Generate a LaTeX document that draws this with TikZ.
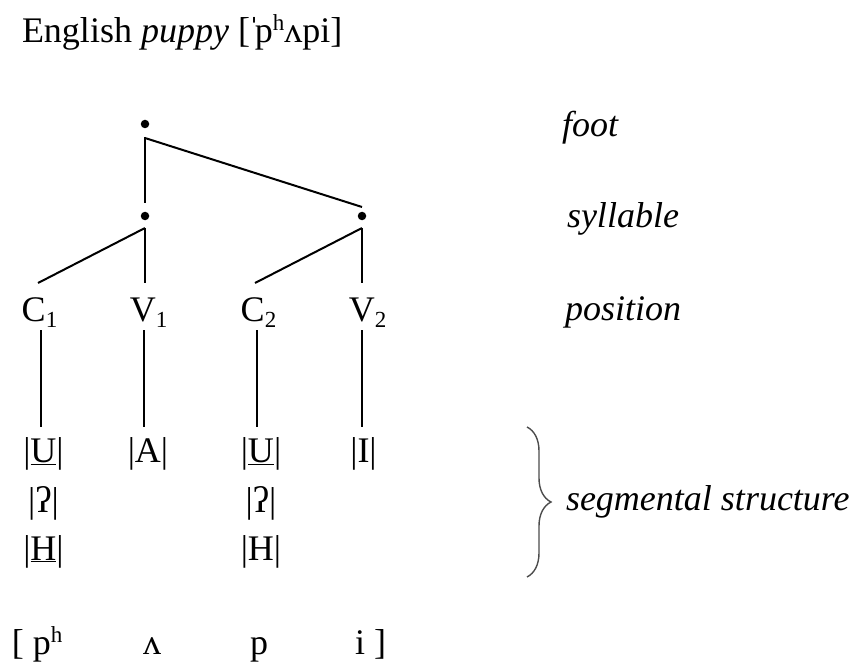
\documentclass[tikz,border=0pt]{standalone}
\usepackage{fontspec}
\usepackage{graphicx}
\setmainfont{Liberation Serif}
\usetikzlibrary{decorations.pathreplacing}
% lowered index digit and raised aspiration mark
\newcommand\lowidx[1]{\raisebox{-6pt}{\fontsize{23}{23}\selectfont #1}}
\newcommand\upidx[1]{\raisebox{12pt}{\fontsize{23}{23}\selectfont #1}}
% glottal stop element, set at full cap height
\newcommand\glot{\resizebox{!}{26pt}{ʔ}}

\begin{document}
\begin{tikzpicture}[x=1pt,y=-1pt,
  every node/.style={inner sep=0pt, outer sep=0pt, font=\fontsize{36}{43}\selectfont},
  txt/.style={anchor=base},
  lbl/.style={anchor=base west, font=\fontsize{36}{43}\selectfont\itshape},
  dot/.style={circle, fill=black, minimum size=8.5pt},
  branch/.style={line width=2pt},
  curly/.style={decorate, decoration={brace, amplitude=24pt}, line width=1.4pt, draw=black!70},
]
\useasboundingbox (0,0) rectangle (859,671);

% heading
\node[anchor=base west] (title) at (22,43) {English \textit{puppy} [\kern-2ptˈ\kern-5ptp\upidx{h}ʌpi]};

% prosodic nodes
\node[dot] (foot) at (145,124) {};
\node[dot] (sylA) at (145,216) {};
\node[dot] (sylB) at (362,216) {};

% skeletal positions
\node[txt] (C1) at (39.5,321) {C\lowidx{1}};
\node[txt] (V1) at (148.5,321) {V\lowidx{1}};
\node[txt] (C2) at (258.5,321) {C\lowidx{2}};
\node[txt] (V2) at (367.5,321) {V\lowidx{2}};

% element structure
\node[txt] (U1) at (43.5,462) {|\underline{U}|};
\node[txt] (Q1) at (43.5,512) {|\glot|};
\node[txt] (H1) at (43.5,560) {|\underline{H}|};
\node[txt] (A)  at (148,462) {|A|};
\node[txt] (U2) at (261,462) {|\underline{U}|};
\node[txt] (Q2) at (261,512) {|\glot|};
\node[txt] (H2) at (261,560) {|H|};
\node[txt] (I)  at (363.5,462) {|I|};

% phonetic output
\node[anchor=base west] (ph) at (12,654) {[ p\upidx{h}};
\node[txt] (uh) at (152,654) {ʌ};
\node[txt] (pp) at (259,654) {p};
\node[anchor=base west] (ii) at (355,654) {i ]};

% level labels
\node[lbl] (lfoot) at (562,137) {foot};
\node[lbl] (lsyl)  at (567,227) {syllable};
\node[lbl] (lpos)  at (565,320) {position};
\node[lbl] (lseg)  at (566,510) {segmental structure};

% association lines
\draw[branch] ([yshift=-13pt]foot.center) -- ([yshift=13pt]sylA.center);
\draw[branch] ([yshift=-14pt]foot.center) -- ([yshift=9pt]sylB.center);
\draw[branch] ([yshift=-12pt]sylA.center) -- ([xshift=-1.5pt,yshift=38pt]C1.base);
\draw[branch] ([yshift=-12pt]sylA.center) -- ([xshift=-3.5pt,yshift=38pt]V1.base);
\draw[branch] ([yshift=-12pt]sylB.center) -- ([xshift=-3.5pt,yshift=38pt]C2.base);
\draw[branch] ([yshift=-12pt]sylB.center) -- ([xshift=-5.5pt,yshift=38pt]V2.base);

\draw[branch] ([xshift=1.5pt,yshift=-9pt]C1.base) -- ([xshift=-2.5pt,yshift=35pt]U1.base);
\draw[branch] ([xshift=-4.5pt,yshift=-9pt]V1.base) -- ([xshift=-4pt,yshift=35pt]A.base);
\draw[branch] ([xshift=-1.5pt,yshift=-9pt]C2.base) -- ([xshift=-4pt,yshift=35pt]U2.base);
\draw[branch] ([xshift=-5.5pt,yshift=-9pt]V2.base) -- ([xshift=-1.5pt,yshift=35pt]I.base);

% brace grouping the element rows
\draw[curly] (527,427) -- (527,577);
\end{tikzpicture}
\end{document}
